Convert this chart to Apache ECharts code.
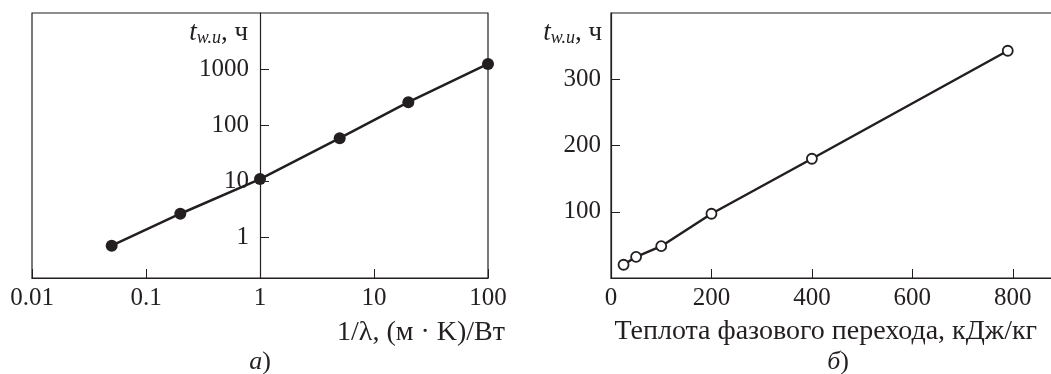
<!DOCTYPE html>
<html>
<head>
<meta charset="utf-8">
<script src="https://cdn.jsdelivr.net/npm/echarts@6/dist/echarts.min.js"></script>
<style>
  html, body { margin: 0; padding: 0; background: #fff; }
  #chart { width: 1051px; height: 374px; }
</style>
</head>
<body>
<div id="chart"></div>
<script>
// panel а) : log-log
var xA = [0.05, 0.2, 1, 5, 20, 100];
var yA = [0.7, 2.6, 10.8, 58, 255, 1230];
var xTicksA = ['0.01', '0.1', '1', '10', '100'];
var yTicksA = ['1', '10', '100', '1000'];

// panel б) : linear
var xB = [25, 50, 100, 200, 400, 790];
var yB = [20, 32, 48, 97, 180, 343];
var yTicksB = ['100', '200', '300'];

var ink = '#231f20';
var serif = 'Liberation Serif';

function pick(list) {
    return function (v) {
        for (var i = 0; i < list.length; i++) {
            var t = parseFloat(list[i]);
            if (Math.abs(v - t) <= t * 1e-6) return list[i];
        }
        return '';
    };
}

function pairs(xs, ys) {
    var out = [];
    for (var i = 0; i < xs.length; i++) out.push([xs[i], ys[i]]);
    return out;
}

var yName = '{t|t}{s|w.u}{n|, ч}';
var yNameRich = {
    t: { fontFamily: serif, fontStyle: 'italic', fontSize: 27, color: ink },
    s: { fontFamily: serif, fontStyle: 'italic', fontSize: 18, color: ink, padding: [10, 0, 0, 0] },
    n: { fontFamily: serif, fontSize: 27, color: ink }
};

var labelStyle = { fontFamily: serif, fontSize: 25, color: ink };

option = {
    animation: false,
    backgroundColor: '#fff',
    grid: [
        { left: 32, right: 563, top: 13, bottom: 96, show: true, borderColor: ink, borderWidth: 1.2, outerBoundsMode: 'none' },
        { left: 611, right: -12, top: 13, bottom: 96, show: true, borderColor: ink, borderWidth: 1.2, outerBoundsMode: 'none' }
    ],
    xAxis: [
        {
            gridIndex: 0,
            type: 'log',
            min: 0.01,
            max: 100,
            axisLine: { lineStyle: { color: ink, width: 1.2 } },
            axisTick: { inside: true, length: 9, lineStyle: { color: ink } },
            axisLabel: Object.assign({ margin: 8, formatter: pick(xTicksA) }, labelStyle),
            splitLine: { show: false },
            name: '1/λ, (м · K)/Вт',
            nameLocation: 'end',
            nameGap: 17,
            nameMoveOverlap: false,
            nameTextStyle: { fontFamily: serif, fontSize: 28, color: ink, align: 'right', verticalAlign: 'top', lineHeight: 28, padding: [41, 0, 0, 0] }
        },
        {
            gridIndex: 1,
            type: 'value',
            min: 0,
            max: 900,
            interval: 200,
            axisLine: { lineStyle: { color: ink, width: 1.2 } },
            axisTick: { inside: true, length: 9, lineStyle: { color: ink } },
            axisLabel: Object.assign({ margin: 8, showMaxLabel: false }, labelStyle),
            splitLine: { show: false },
            name: 'Теплота фазового перехода, кДж/кг',
            nameLocation: 'end',
            nameGap: -26,
            nameMoveOverlap: false,
            nameTextStyle: { fontFamily: serif, fontSize: 28, color: ink, align: 'right', verticalAlign: 'top', lineHeight: 28, padding: [40, 0, 0, 0] }
        }
    ],
    yAxis: [
        {
            gridIndex: 0,
            type: 'log',
            min: 0.185,
            max: 10000,
            position: 'left',
            offset: -228,
            axisLine: { show: true, lineStyle: { color: ink, width: 1.2 } },
            axisTick: { inside: true, length: 9, lineStyle: { color: ink } },
            axisLabel: Object.assign({ margin: 11, formatter: pick(yTicksA), showMinLabel: false, showMaxLabel: false }, labelStyle),
            splitLine: { show: false },
            name: yName,
            nameLocation: 'end',
            nameGap: -20,
            nameMoveOverlap: false,
            nameTextStyle: { align: 'right', verticalAlign: 'middle', padding: [0, 12, 0, 0], rich: yNameRich }
        },
        {
            gridIndex: 1,
            type: 'value',
            min: 0,
            max: 400,
            interval: 100,
            axisLine: { show: true, lineStyle: { color: ink, width: 1.2 } },
            axisTick: { inside: true, length: 9, lineStyle: { color: ink } },
            axisLabel: Object.assign({ margin: 10, formatter: pick(yTicksB), showMinLabel: false, showMaxLabel: false }, labelStyle),
            splitLine: { show: false },
            name: yName,
            nameLocation: 'end',
            nameGap: -20,
            nameMoveOverlap: false,
            nameTextStyle: { align: 'right', verticalAlign: 'middle', padding: [0, 9, 0, 0], rich: yNameRich }
        }
    ],
    series: [
        {
            type: 'line',
            xAxisIndex: 0,
            yAxisIndex: 0,
            data: pairs(xA, yA),
            symbol: 'circle',
            symbolSize: 12,
            lineStyle: { color: ink, width: 2.5 },
            itemStyle: { color: ink }
        },
        {
            type: 'line',
            xAxisIndex: 1,
            yAxisIndex: 1,
            data: pairs(xB, yB),
            symbol: 'circle',
            symbolSize: 10,
            lineStyle: { color: ink, width: 2.5 },
            itemStyle: { color: '#fff', borderColor: ink, borderWidth: 1.8 }
        }
    ],
    graphic: [
        {
            type: 'text', x: 260, y: 362,
            style: {
                text: '{i|а}{n|)}', align: 'center', verticalAlign: 'middle',
                rich: {
                    i: { fontFamily: serif, fontStyle: 'italic', fontSize: 26, fill: ink },
                    n: { fontFamily: serif, fontSize: 26, fill: ink }
                }
            }
        },
        {
            type: 'text', x: 838, y: 362,
            style: {
                text: '{i|б}{n|)}', align: 'center', verticalAlign: 'middle',
                rich: {
                    i: { fontFamily: serif, fontStyle: 'italic', fontSize: 26, fill: ink },
                    n: { fontFamily: serif, fontSize: 26, fill: ink }
                }
            }
        }
    ]
};

var chart = echarts.init(document.getElementById('chart'), null, { renderer: 'canvas' });
chart.setOption(option);
</script>
</body>
</html>
